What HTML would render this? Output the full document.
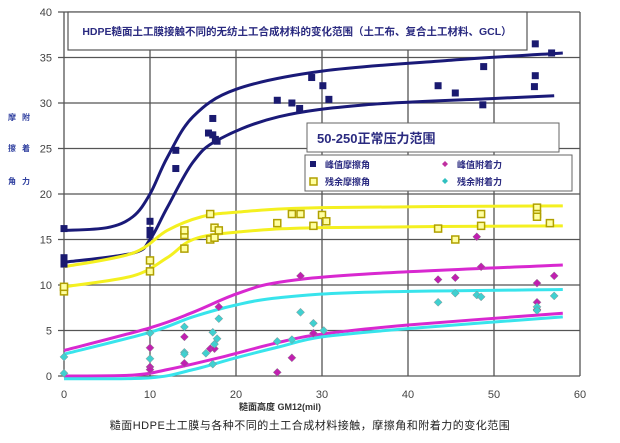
<!DOCTYPE html>
<html><head><meta charset="utf-8"><style>
body{margin:0;background:#fff;width:620px;height:438px;overflow:hidden;font-family:"Liberation Sans","Noto Sans CJK SC",sans-serif;}
</style></head><body>
<svg id="s" width="620" height="438" xmlns="http://www.w3.org/2000/svg" font-family="Liberation Sans, Noto Sans CJK SC, sans-serif">
<rect x="0" y="0" width="620" height="438" fill="#fff"/>
<g id="grid"></g>
<g id="curves"></g>
<g id="pts"></g>
<rect x="68" y="12" width="459" height="38" fill="#fff" stroke="#555" stroke-width="1.2"/>
<text x="297" y="35" text-anchor="middle" font-size="10.5" font-weight="bold" fill="#2a2a80">HDPE糙面土工膜接触不同的无纺土工合成材料的变化范围（土工布、复合土工材料、GCL）</text>
<rect x="307" y="123" width="252" height="29" fill="#fff" stroke="#666" stroke-width="1"/>
<text x="317" y="143" font-size="13" font-weight="bold" fill="#2a2a80">50-250正常压力范围</text>
<rect x="305" y="155" width="267" height="36" fill="#fff" stroke="#666" stroke-width="1"/>
<rect x="310" y="161" width="6" height="6" fill="#1a1a70"/>
<text x="325" y="168" font-size="9" font-weight="bold" fill="#2a2a80">峰值摩擦角</text>
<rect x="310" y="178" width="7" height="7" fill="#ffffa0" stroke="#b0a000" stroke-width="1.5"/>
<text x="325" y="185" font-size="9" font-weight="bold" fill="#2a2a80">残余摩擦角</text>
<polygon points="445,161 448,164 445,167 442,164" fill="#c030a0"/>
<text x="457" y="168" font-size="9" font-weight="bold" fill="#2a2a80">峰值附着力</text>
<polygon points="445,178 448,181 445,184 442,181" fill="#30c0c0"/>
<text x="457" y="185" font-size="9" font-weight="bold" fill="#2a2a80">残余附着力</text>
<g font-size="8" font-weight="bold" fill="#3040a0">
<text x="8" y="120">摩</text><text x="22" y="120">附</text>
<text x="8" y="151">擦</text><text x="22" y="151">着</text>
<text x="8" y="184">角</text><text x="22" y="184">力</text>
</g>
<text x="280" y="410" text-anchor="middle" font-size="9" font-weight="bold" fill="#333">糙面高度 GM12(mil)</text>
<text x="310" y="429" text-anchor="middle" font-size="11" fill="#222" letter-spacing="0.5">糙面HDPE土工膜与各种不同的土工合成材料接触，摩擦角和附着力的变化范围</text>
</svg>
<script>
var X=function(v){return 64+v*8.6},Y=function(v){return 376-v*9.1};
var ns="http://www.w3.org/2000/svg";
function el(p,t,a,txt){var e=document.createElementNS(ns,t);for(var k in a)e.setAttribute(k,a[k]);if(txt!=null)e.textContent=txt;document.getElementById(p).appendChild(e);return e;}
for(var i=0;i<=60;i+=10){el('grid','line',{x1:X(i),x2:X(i),y1:12,y2:376,stroke:'#555','stroke-width':1.3});
el('grid','text',{x:X(i),y:398,'text-anchor':'middle','font-size':11,fill:'#444'},i);}
for(var j=0;j<=40;j+=5){el('grid','line',{x1:58,x2:X(60),y1:Y(j),y2:Y(j),stroke:'#555','stroke-width':1.3});
el('grid','text',{x:52,y:Y(j)+4,'text-anchor':'end','font-size':11,fill:'#444'},j);}
function curve(pts,c,w){var p=pts.map(function(q){return[X(q[0]),Y(q[1])]});var d='M'+p[0][0]+','+p[0][1];
for(var i=0;i<p.length-1;i++){var p0=p[i-1]||p[i],p1=p[i],p2=p[i+1],p3=p[i+2]||p2;
d+=' C'+(p1[0]+(p2[0]-p0[0])/6)+','+(p1[1]+(p2[1]-p0[1])/6)+' '+(p2[0]-(p3[0]-p1[0])/6)+','+(p2[1]-(p3[1]-p1[1])/6)+' '+p2[0]+','+p2[1];}
el('curves','path',{d:d,fill:'none',stroke:c,'stroke-width':w});}
var NV='#1a1a78',YL='#f4f020',MG='#d828d0',CY='#38e4ec';
curve([[0,16],[5,16.3],[8,17.5],[10,20],[12,24],[15,28.5],[20,31.5],[30,33.5],[45,34.7],[58,35.5]],NV,3);
curve([[0,12.5],[8,13.5],[10,15],[12,18.5],[15,23.5],[18,26],[25,28.5],[35,29.8],[50,30.5],[57,30.8]],NV,3);
curve([[0,12],[8,13.5],[12,16],[16,17.5],[20,18],[30,18.5],[58,18.7]],YL,3);
curve([[0,9.8],[8,11],[12,13],[15,15],[20,15.8],[30,16.3],[58,16.5]],YL,3);
curve([[0,2.8],[10,5.3],[15,7],[20,9],[25,10.3],[35,11.2],[58,12.2]],MG,3);
curve([[0,2.4],[10,4.8],[15,6.5],[20,7.8],[25,8.6],[35,9.2],[58,9.5]],CY,3);
curve([[0,0],[8,0.1],[12,0.7],[18,2],[25,3.7],[30,4.6],[40,5.6],[58,6.9]],MG,3);
curve([[0,-0.3],[10,-0.2],[15,0.7],[20,2],[25,3.2],[30,4.3],[40,5.2],[58,6.5]],CY,3);
var nv=[[0,16.2],[0,13],[0,12.5],[0,12.3],[10,17],[10,16],[10,15.5],[13,24.8],[13,22.8],[16.8,26.7],[17.3,28.3],[17.3,26.5],[17.8,25.8],[17.6,26],[24.8,30.3],[26.5,30],[27.4,29.4],[28.8,32.8],[30.1,31.9],[30.8,30.4],[43.5,31.9],[45.5,31.1],[48.7,29.8],[48.8,34],[54.8,36.5],[54.8,33],[54.7,31.8],[56.7,35.5]];
nv.forEach(function(q){el('pts','rect',{x:X(q[0])-3.5,y:Y(q[1])-3.5,width:7,height:7,fill:'#1a1a70'})});
var yl=[[0,9.3],[0,9.8],[10,11.5],[10,12.7],[14,14],[14,15.5],[14,16],[17,15],[17.5,15.2],[17.5,16.3],[18,16],[17,17.8],[24.8,16.8],[26.5,17.8],[27.5,17.8],[29,16.5],[30,17.7],[30.5,17],[43.5,16.2],[45.5,15],[48.5,16.5],[48.5,17.8],[55,18.5],[55,17.8],[55,17.5],[56.5,16.8]];
yl.forEach(function(q){el('pts','rect',{x:X(q[0])-3.5,y:Y(q[1])-3.5,width:7,height:7,fill:'#ffffa0',stroke:'#b0a000','stroke-width':1.5})});
function dia(q,c){var x=X(q[0]),y=Y(q[1]);el('pts','polygon',{points:(x)+','+(y-4)+' '+(x+4)+','+y+' '+x+','+(y+4)+' '+(x-4)+','+y,fill:c,stroke:'#888','stroke-width':0.5});}
[[10,3.1],[10,1],[10,0.7],[14,4.3],[14,1.4],[17,3],[17.5,3],[18,7.6],[24.8,0.4],[26.5,2],[27.5,11],[29,4.7],[43.5,10.6],[45.5,10.8],[48,15.3],[48.5,12],[55,10.2],[55,8.1],[55,7.3],[57,11]].forEach(function(q){dia(q,'#c020b0')});
[[0,2.1],[0,0.3],[10,4.7],[10,1.9],[14,5.4],[14,2.6],[14,2.4],[16.5,2.5],[17.3,4.8],[17.5,3.5],[17.8,4.1],[18,6.3],[17.3,1.3],[24.8,3.8],[26.5,4],[27.5,7],[29,5.8],[30.2,5],[43.5,8.1],[45.5,9.1],[48,8.9],[48.5,8.7],[55,7.6],[55,7.2],[57,8.8]].forEach(function(q){dia(q,'#40d0d0')});
</script>
</body></html>
